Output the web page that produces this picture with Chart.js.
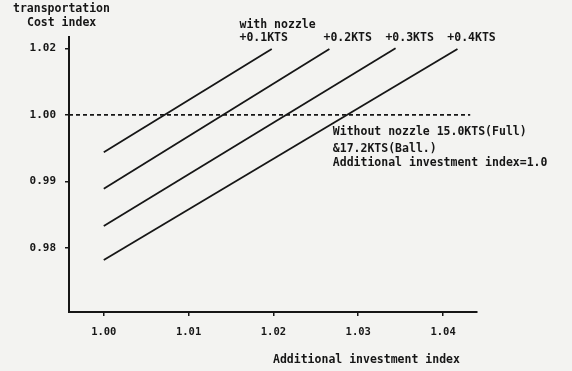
<!DOCTYPE html>
<html>
<head>
<meta charset="utf-8">
<script src="https://cdn.jsdelivr.net/npm/chart.js@4/dist/chart.umd.min.js"></script>
<style>
  html, body { margin: 0; padding: 0; background: #f3f3f1; }
  canvas { display: block; }
</style>
</head>
<body>
<canvas id="c" width="572" height="371"></canvas>
<script>
// Speed margins gained with the nozzle, one line each
const speedLabels = ['+0.1KTS', '+0.2KTS', '+0.3KTS', '+0.4KTS'];
// Additional investment index (x) and transportation cost index (y) at each line's ends
const lineStartX = [1.0000, 1.0000, 1.0000, 1.0000];
const lineStartY = [0.9944, 0.9889, 0.9833, 0.9782];
const lineEndX   = [1.0198, 1.0266, 1.0344, 1.0417];
const lineEndY   = [1.0099, 1.0099, 1.0100, 1.0099];
// Reference level: without nozzle, cost index 1.00
const baselineX = [0.9959, 1.0432];
const baselineY = [1.00, 1.00];
// Axis ticks
const xTickValues = [1.00, 1.01, 1.02, 1.03, 1.04];
const xTickLabels = ['1.00', '1.01', '1.02', '1.03', '1.04'];
const yTickValues = [0.98, 0.99, 1.00, 1.01];
const yTickLabels = ['0.98', '0.99', '1.00', '1.02'];

const INK = '#161616';
const MONO = '"DejaVu Sans Mono", "Liberation Mono", monospace';

const datasets = speedLabels.map((label, i) => ({
  label,
  data: [{ x: lineStartX[i], y: lineStartY[i] }, { x: lineEndX[i], y: lineEndY[i] }],
  borderColor: INK,
  borderWidth: 1.8,
  pointRadius: 0,
  fill: false
}));
datasets.push({
  label: 'Without nozzle',
  data: baselineX.map((x, i) => ({ x, y: baselineY[i] })),
  borderColor: INK,
  borderWidth: 1.8,
  borderDash: [4, 3],
  pointRadius: 0,
  fill: false
});

// Free-standing texts: axis captions and notes
const notes = {
  id: 'notes',
  afterDraw(chart) {
    const { ctx, scales: { x, y } } = chart;
    ctx.save();
    ctx.fillStyle = INK;
    ctx.textBaseline = 'middle';
    ctx.textAlign = 'left';
    ctx.font = 'bold 11.5px ' + MONO;
    ctx.fillText('transportation', 13, 9);
    ctx.fillText('Cost index', 27, 23);

    // Speed labels above the upper ends of the lines
    const labelX = [1.0160, 1.0259, 1.0332, 1.0405];
    ctx.fillText('with nozzle', x.getPixelForValue(labelX[0]), 25);
    speedLabels.forEach((t, i) => ctx.fillText(t, x.getPixelForValue(labelX[i]), 38));

    // Reference condition
    const nx = x.getPixelForValue(1.0270);
    const ny = y.getPixelForValue(1.00);
    ctx.fillText('Without nozzle 15.0KTS(Full)', nx, ny + 17);
    ctx.fillText('&17.2KTS(Ball.)', nx, ny + 34);
    ctx.fillText('Additional investment index=1.0', nx, ny + 48);

    // X axis caption
    ctx.fillText('Additional investment index', 273, 360);
    ctx.restore();
  }
};

new Chart(document.getElementById('c'), {
  type: 'line',
  data: { datasets },
  plugins: [notes],
  options: {
    responsive: false,
    animation: false,
    layout: { padding: { top: 37, right: 95, left: 0, bottom: 0 } },
    plugins: { legend: { display: false }, tooltip: { enabled: false } },
    scales: {
      x: {
        type: 'linear',
        min: 0.9959,
        max: 1.044,
        afterBuildTicks: s => { s.ticks = xTickValues.map(v => ({ value: v })); },
        afterFit: s => { s.height = 59; },
        ticks: {
          color: INK,
          font: { family: MONO, size: 10.5, weight: 'bold' },
          padding: 10,
          maxRotation: 0,
          callback: (v, i) => xTickLabels[i]
        },
        grid: { drawOnChartArea: false, drawTicks: true, tickLength: 4, color: INK, lineWidth: 1.5 },
        border: { display: true, color: INK, width: 2 }
      },
      y: {
        type: 'linear',
        min: 0.9704,
        max: 1.0117,
        afterBuildTicks: s => { s.ticks = yTickValues.map(v => ({ value: v })); },
        afterFit: s => { s.width = 69; },
        ticks: {
          color: INK,
          font: { family: MONO, size: 11, weight: 'bold' },
          padding: 9,
          callback: (v, i) => yTickLabels[i]
        },
        grid: { drawOnChartArea: false, drawTicks: true, tickLength: 4, color: INK, lineWidth: 1.5 },
        border: { display: true, color: INK, width: 2 }
      }
    }
  }
});
</script>
</body>
</html>
